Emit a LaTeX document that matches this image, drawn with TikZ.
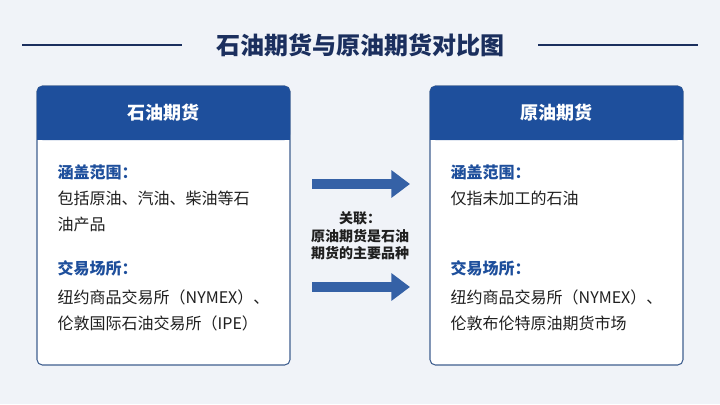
\documentclass[tikz,border=0pt]{standalone}
\usepackage{fontspec}
\setmainfont{Noto Sans CJK SC}
\usetikzlibrary{arrows.meta,shadows}
\definecolor{navy}{HTML}{1B2F5E}
\definecolor{hdr}{HTML}{1E4F9C}
\definecolor{bdr}{HTML}{3F5F8F}
\definecolor{txt}{HTML}{1F1F1F}
\definecolor{bg}{HTML}{F0F3F8}
\tikzset{
 box/.style={draw=bdr,line width=0.8pt,fill=white,rounded corners=4pt},
 hd/.style={text=white,font=\bfseries\fontsize{13.5}{15}\selectfont},
 lab/.style={text=hdr,font=\bfseries\fontsize{12}{14}\selectfont,anchor=west},
 bod/.style={text=txt,font=\fontsize{12}{14}\selectfont,anchor=west},
 mid/.style={text=txt,font=\bfseries\fontsize{10.5}{13}\selectfont},
 arr/.style={line width=7pt,-{Triangle[length=14pt,width=20pt]},hdr!90}
}
\begin{document}
\begin{tikzpicture}[x=0.75pt,y=-0.75pt]
\fill[bg] (0,0) rectangle (720,404);
\useasboundingbox (0,0) rectangle (720,404);
\node[text=navy,font=\bfseries\fontsize{18}{22}\selectfont] (title) at (360,45) {石油期货与原油期货对比图};
\coordinate (l1) at (22,45); \coordinate (r1) at (698,45);
\draw[navy,line width=0.8pt] (l1) -- (title.west-|182,45);
\draw[navy,line width=0.8pt] (title.east-|538,45) -- (r1);
\foreach \x/\n/\t in {37/L/石油期货,430/R/原油期货}{
 \draw[box] (\x,86) rectangle ++(253,279);
 \fill[hdr,rounded corners=4pt] (\x,86) rectangle ++(253,54);
 \fill[hdr] (\x,120) rectangle ++(253,20);
 \node[hd] (h\n) at (\x+126.5,113) {\t};
}
\node[lab] (a1) at (53,172) {涵盖范围：};
\node[bod] (a2) at (53,198) {包括原油、汽油、柴油等石};
\node[bod] (a3) at (53,224) {油产品};
\node[lab] (a4) at (53,268) {交易场所：};
\node[bod] (a5) at (53,297) {纽约商品交易所（NYMEX）、};
\node[bod] (a6) at (53,323) {伦敦国际石油交易所（IPE）};
\node[lab] (b1) at (446,172) {涵盖范围：};
\node[bod] (b2) at (446,198) {仅指未加工的石油};
\node[lab] (b4) at (446,268) {交易场所：};
\node[bod] (b5) at (446,297) {纽约商品交易所（NYMEX）、};
\node[bod] (b6) at (446,323) {伦敦布伦特原油期货市场};
\coordinate (s1) at (312,184); \coordinate (e1) at (410,184);
\coordinate (s2) at (312,287); \coordinate (e2) at (410,287);
\draw[arr] (s1) -- (e1);
\draw[arr] (s2) -- (e2);
\node[mid,align=center] (m) at (360,236) {关联：\\原油期货是石油\\期货的主要品种};
\end{tikzpicture}
\end{document}
